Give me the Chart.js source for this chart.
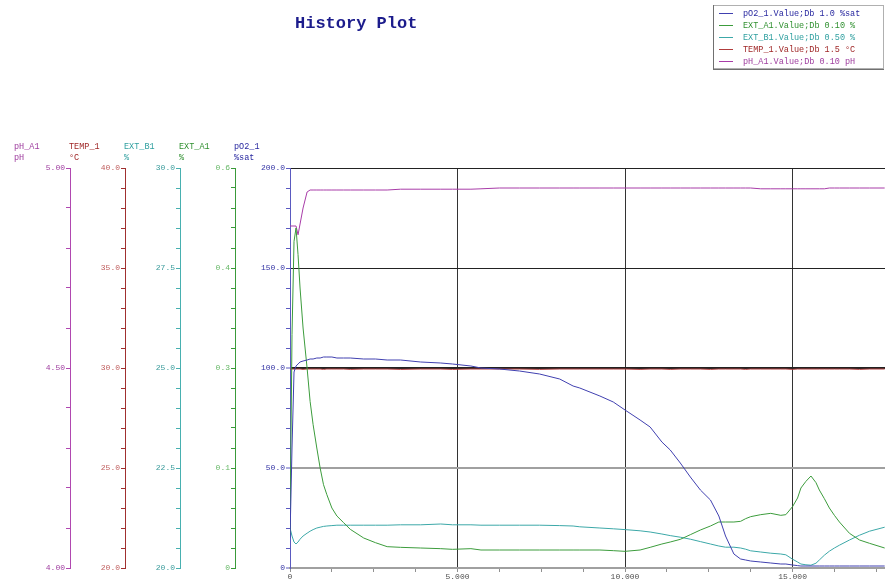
<!DOCTYPE html>
<html>
<head>
<meta charset="utf-8">
<title>History Plot</title>
<script src="https://cdn.jsdelivr.net/npm/chart.js@4.4.1/dist/chart.umd.min.js"></script>
<style>
    html, body { margin: 0; padding: 0; background: #fff; overflow: hidden; }
</style>
</head>
<body>
<canvas id="historyChart" width="885" height="581"></canvas>
<script>
// sample times (x axis)
const times = [0, 60, 120, 180, 240, 300, 390, 510, 600, 690, 800, 900, 1000, 1100, 1250, 1400, 1600, 1800, 2200, 2550,
    2900, 3300, 3900, 4500, 4850, 5400, 5700, 6250, 6850, 7450, 8050, 8450, 8650, 9250, 9650, 10000, 10450, 10750, 11100, 11350,
    11650, 11950, 12250, 12550, 12800, 13000, 13250, 13450, 13600, 13750, 14050, 14350, 14650, 14800, 15000, 15150, 15250, 15400, 15550, 15700,
    15800, 15950, 16100, 16250, 16400, 16700, 17000, 17300, 17750];

// series values
const po2Values = [15, 60, 98, 101, 102, 103, 103.5, 104, 104.5, 104.5, 105, 105, 105.5, 105.5, 105.5, 105, 105, 105, 104.5, 104.5,
    104, 104, 103, 102.5, 102, 101, 100, 99.5, 98.5, 97, 94.5, 91, 90, 86, 83, 79, 74, 70.5, 63, 59,
    52.5, 45.5, 39, 34, 26, 16, 7, 4.5, 4, 3.5, 3, 2.5, 2, 2, 1.5, 1.2, 1, 1, 1, 1,
    1, 1, 1, 1, 1, 1, 1, 1, 1];
const extA1Values = [0.05, 0.35, 0.49, 0.51, 0.47, 0.42, 0.36, 0.3, 0.25, 0.215, 0.18, 0.15, 0.125, 0.11, 0.09, 0.078, 0.068, 0.058, 0.045, 0.038,
    0.032, 0.031, 0.03, 0.029, 0.028, 0.029, 0.027, 0.027, 0.027, 0.027, 0.027, 0.027, 0.027, 0.027, 0.026, 0.025, 0.027, 0.031, 0.036, 0.039,
    0.043, 0.05, 0.057, 0.063, 0.069, 0.069, 0.069, 0.07, 0.074, 0.077, 0.08, 0.082, 0.079, 0.08, 0.092, 0.105, 0.12, 0.13, 0.138, 0.128,
    0.117, 0.104, 0.09, 0.079, 0.069, 0.052, 0.042, 0.037, 0.03];
const extB1Values = [21.0, 20.8, 20.65, 20.6, 20.65, 20.72, 20.8, 20.87, 20.92, 20.96, 21.0, 21.02, 21.04, 21.05, 21.06, 21.07, 21.07, 21.07, 21.07, 21.07,
    21.07, 21.08, 21.08, 21.1, 21.08, 21.08, 21.07, 21.07, 21.07, 21.07, 21.06, 21.05, 21.03, 21.0, 20.98, 20.96, 20.93, 20.9, 20.85, 20.81,
    20.77, 20.72, 20.66, 20.6, 20.55, 20.52, 20.52, 20.5, 20.47, 20.43, 20.4, 20.37, 20.35, 20.33, 20.22, 20.15, 20.1, 20.08, 20.07, 20.12,
    20.2, 20.32, 20.42, 20.5, 20.57, 20.7, 20.82, 20.92, 21.02];
const tempValues = [29.95, 29.95, 29.95, 29.95, 29.95, 29.95, 29.93, 29.95, 29.95, 29.95, 29.95, 29.95, 29.93, 29.95, 29.95, 29.95, 29.95, 29.93, 29.95, 29.95,
    29.95, 29.93, 29.95, 29.95, 29.93, 29.95, 29.95, 29.95, 29.95, 29.93, 29.95, 29.95, 29.95, 29.95, 29.95, 29.95, 29.93, 29.95, 29.95, 29.93,
    29.95, 29.95, 29.95, 29.93, 29.95, 29.95, 29.95, 29.95, 29.93, 29.95, 29.95, 29.95, 29.95, 29.95, 29.93, 29.95, 29.95, 29.95, 29.95, 29.95,
    29.95, 29.95, 29.95, 29.95, 29.95, 29.95, 29.93, 29.95, 29.95];
const phValues = [4.855, 4.855, 4.855, 4.855, 4.833, 4.86, 4.9, 4.94, 4.945, 4.945, 4.945, 4.945, 4.945, 4.945, 4.945, 4.945, 4.945, 4.945, 4.945, 4.945,
    4.945, 4.947, 4.947, 4.947, 4.947, 4.947, 4.948, 4.95, 4.95, 4.95, 4.95, 4.95, 4.95, 4.95, 4.95, 4.95, 4.95, 4.95, 4.95, 4.95,
    4.95, 4.95, 4.95, 4.95, 4.95, 4.95, 4.95, 4.95, 4.95, 4.95, 4.948, 4.948, 4.948, 4.948, 4.948, 4.948, 4.948, 4.948, 4.948, 4.948,
    4.948, 4.948, 4.95, 4.95, 4.95, 4.95, 4.95, 4.95, 4.95];

// tick labels, bottom to top
const phLabels = ['4.00', '4.50', '5.00'];
const tempLabels = ['20.0', '25.0', '30.0', '35.0', '40.0'];
const extB1Labels = ['20.0', '22.5', '25.0', '27.5', '30.0'];
const extA1Labels = ['0', '0.1', '0.3', '0.4', '0.6'];
const po2Labels = ['0', '50.0', '100.0', '150.0', '200.0'];
const timeLabels = ['0', '5.000', '10.000', '15.000'];

const MONO = "'Liberation Mono', 'DejaVu Sans Mono', monospace";

// series colours: line, legend text
const lineColors = ['#4040b0', '#3c9c3c', '#3ca8a8', '#b03c3c', '#a83ca8'];
const textColors = ['#2828a0', '#309030', '#30a0a0', '#a02828', '#a040a0'];

// axis names drawn above each left axis
const axisNames = {
    yPh: ['pH_A1', 'pH', '#a040a0'],
    yTemp: ['TEMP_1', '°C', '#a02828'],
    yExtB1: ['EXT_B1', '%', '#30a0a0'],
    yExtA1: ['EXT_A1', '%', '#309030'],
    yPo2: ['pO2_1', '%sat', '#2828a0']
};

function toPoints(vals) {
    return times.map((t, i) => ({ x: t, y: vals[i] }));
}

// builds one of the stacked left axes
function sideAxis(min, max, labels, lineColor, labelColor, weight) {
    return {
        type: 'linear',
        position: 'left',
        min: min,
        max: max,
        weight: weight,
        afterBuildTicks: (s) => {
            const n = (labels.length - 1) * 5;
            s.ticks = Array.from({ length: n + 1 }, (_, i) => ({ value: min + (max - min) * i / n }));
        },
        afterFit: (s) => { s.width = 55; },
        ticks: {
            autoSkip: false,
            color: labelColor,
            padding: 1,
            font: { family: MONO, size: 8 },
            callback: (v, i) => (i % 5 === 0 ? labels[i / 5] : '')
        },
        grid: { drawOnChartArea: false, tickLength: 4, tickColor: lineColor },
        border: { color: lineColor, width: 1 }
    };
}

const po2Axis = sideAxis(0, 200, po2Labels, '#5a5ac0', '#3434a4', 0);
po2Axis.grid = {
    drawOnChartArea: true,
    tickLength: 4,
    tickColor: '#5a5ac0',
    tickWidth: 1,
    color: (ctx) => {
        const i = ctx.index;
        if (i % 5 !== 0) return 'rgba(0,0,0,0)';
        if (i === 0 || i === 5) return '#a0a0a0';
        return '#222';
    },
    lineWidth: (ctx) => (ctx.index === 0 || ctx.index === 5 || ctx.index === 10 ? 2 : 1)
};

// title, axis names and legend box
const decorPlugin = {
    id: 'decor',
    afterDraw(chart) {
        const ctx = chart.ctx;
        ctx.save();
        ctx.textBaseline = 'alphabetic';
        ctx.textAlign = 'left';
        ctx.fillStyle = '#1c1c8c';
        ctx.font = "bold 17px " + MONO;
        ctx.fillText('History Plot', 295, 28);

        ctx.font = "8.5px " + MONO;
        ctx.textBaseline = 'middle';
        Object.keys(axisNames).forEach(id => {
            const s = chart.scales[id];
            const [name, unit, color] = axisNames[id];
            ctx.fillStyle = color;
            ctx.fillText(name, s.left - 1, 146.5);
            ctx.fillText(unit, s.left - 1, 158);
        });

        // legend
        ctx.fillStyle = '#fff';
        ctx.fillRect(713, 5, 171, 64);
        ctx.strokeStyle = '#b0b0b0';
        ctx.lineWidth = 1;
        ctx.strokeRect(713.5, 5.5, 170, 63);
        ctx.fillStyle = '#707070';
        ctx.fillRect(713, 5, 1, 65);
        ctx.fillRect(713, 69, 171, 1);
        chart.data.datasets.forEach((ds, i) => {
            const y = 13 + i * 12;
            ctx.fillStyle = lineColors[i];
            ctx.fillRect(719, y, 14, 1);
            ctx.fillStyle = textColors[i];
            ctx.fillText(ds.label, 743, y + 1);
        });
        ctx.restore();
    }
};

const chart = new Chart(document.getElementById('historyChart'), {
    type: 'line',
    data: {
        datasets: [
            { label: 'pO2_1.Value;Db 1.0 %sat', data: toPoints(po2Values), yAxisID: 'yPo2', borderColor: lineColors[0] },
            { label: 'EXT_A1.Value;Db 0.10 %', data: toPoints(extA1Values), yAxisID: 'yExtA1', borderColor: lineColors[1] },
            { label: 'EXT_B1.Value;Db 0.50 %', data: toPoints(extB1Values), yAxisID: 'yExtB1', borderColor: lineColors[2] },
            { label: 'TEMP_1.Value;Db 1.5 °C', data: toPoints(tempValues), yAxisID: 'yTemp', borderColor: lineColors[3] },
            { label: 'pH_A1.Value;Db 0.10 pH', data: toPoints(phValues), yAxisID: 'yPh', borderColor: lineColors[4] }
        ]
    },
    options: {
        responsive: false,
        animation: false,
        devicePixelRatio: 1,
        layout: { padding: { top: 168, left: 15, right: 0, bottom: 0 } },
        elements: {
            point: { radius: 0 },
            line: { borderWidth: 1, tension: 0 }
        },
        plugins: {
            legend: { display: false },
            title: { display: false },
            tooltip: { enabled: false }
        },
        scales: {
            x: {
                type: 'linear',
                min: 0,
                max: 17760,
                afterBuildTicks: (s) => {
                    s.ticks = Array.from({ length: 15 }, (_, i) => ({ value: i * 1250 }));
                },
                afterFit: (s) => { s.height = 13; },
                ticks: {
                    autoSkip: false,
                    maxRotation: 0,
                    color: '#505050',
                    padding: 0,
                    font: { family: MONO, size: 8 },
                    callback: (v, i) => (i % 4 === 0 ? timeLabels[i / 4] : '')
                },
                grid: {
                    tickLength: 4,
                    tickColor: '#909090',
                    tickWidth: 1,
                    color: (ctx) => (ctx.index % 4 === 0 && ctx.index > 0 ? '#333' : 'rgba(0,0,0,0)'),
                    lineWidth: 1
                },
                border: { color: '#a0a0a0', width: 2 }
            },
            yPo2: po2Axis,
            yExtA1: sideAxis(0, 0.6, extA1Labels, '#3a9a3a', '#68b868', 1),
            yExtB1: sideAxis(20, 30, extB1Labels, '#48b0b0', '#3c9c9c', 2),
            yTemp: sideAxis(20, 40, tempLabels, '#a03030', '#c06060', 3),
            yPh: sideAxis(4, 5, phLabels, '#b048b0', '#a040a0', 4)
        }
    },
    plugins: [decorPlugin]
});
</script>
</body>
</html>
